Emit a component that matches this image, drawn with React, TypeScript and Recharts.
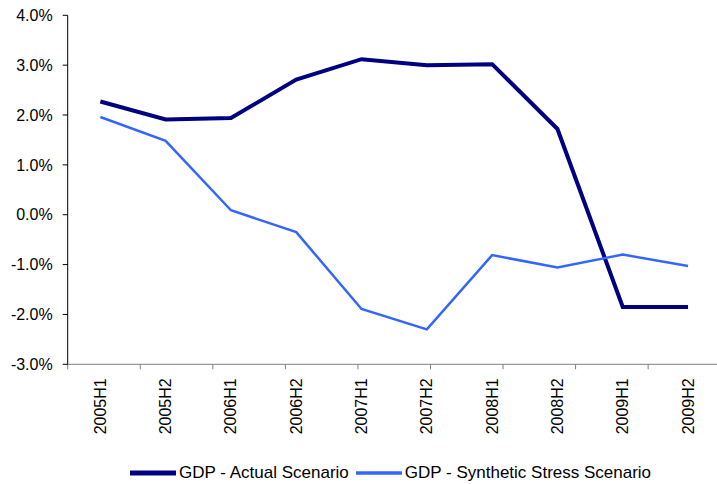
import React from 'react';
import { LineChart, Line, XAxis, YAxis, Legend } from 'recharts';

// Half-year periods on the category axis
const periods = ['2005H1', '2005H2', '2006H1', '2006H2', '2007H1', '2007H2', '2008H1', '2008H2', '2009H1', '2009H2'];

// GDP growth, in percent
const actualScenario = [2.27, 1.91, 1.94, 2.71, 3.12, 3.0, 3.02, 1.72, -1.85, -1.85];
const stressScenario = [1.96, 1.48, 0.09, -0.35, -1.89, -2.3, -0.81, -1.06, -0.8, -1.03];

// Value axis ticks (percent)
const yTicks = [-3, -2, -1, 0, 1, 2, 3, 4];
// Boundaries between categories, used for the tick marks on the bottom axis
const boundaryTicks = [0, 1, 2, 3, 4, 5, 6, 7, 8, 9, 10];

const seriesNames = {
  actual: 'GDP - Actual Scenario',
  stress: 'GDP - Synthetic Stress Scenario',
};

const seriesStyle: Record<string, { color: string; width: number }> = {
  actual: { color: '#000080', width: 4 },
  stress: { color: '#3366ff', width: 2.5 },
};

const data = periods.map((period, i) => ({
  period,
  actual: actualScenario[i],
  stress: stressScenario[i],
}));

const FONT = '"Liberation Sans", Arial, Helvetica, sans-serif';

const PeriodTick = (props: any) => {
  const { x, y, payload } = props;
  return (
    <text
      x={x}
      y={y}
      transform={`rotate(-90, ${x}, ${y})`}
      textAnchor="end"
      dominantBaseline="central"
      fontSize={16}
      fontFamily={FONT}
      fill="#000"
    >
      {payload.value}
    </text>
  );
};

const LegendContent = (props: any) => {
  const { payload } = props;
  return (
    <div
      style={{
        display: 'flex',
        alignItems: 'center',
        height: 20,
        paddingLeft: 130,
        fontFamily: FONT,
        fontSize: 17,
        color: '#000',
        whiteSpace: 'nowrap',
      }}
    >
      {(payload || []).map((entry: any) => {
        const st = seriesStyle[entry.dataKey];
        return (
          <div key={entry.dataKey} style={{ display: 'flex', alignItems: 'center', marginRight: 7 }}>
            <svg width={46} height={8} style={{ marginRight: 3 }}>
              <line x1={0} y1={4} x2={46} y2={4} stroke={st.color} strokeWidth={st.width + 1} />
            </svg>
            <span>{entry.value}</span>
          </div>
        );
      })}
    </div>
  );
};

export default function App() {
  return (
    <div
      style={{
        position: 'absolute',
        left: 0,
        top: 0,
        width: 717,
        height: 484,
        overflow: 'hidden',
        background: '#fff',
      }}
    >
      <LineChart
        width={730}
        height={484}
        data={data}
        margin={{ top: 15.3, right: 9.3, left: 0, bottom: 1.3 }}
      >
        {/* tick marks between categories, right under the plot */}
        <XAxis
          xAxisId={0}
          type="number"
          domain={[0, 10]}
          ticks={boundaryTicks}
          allowDataOverflow
          tickFormatter={() => ''}
          tickSize={5}
          height={6}
          axisLine={{ stroke: '#808080' }}
          tickLine={{ stroke: '#808080' }}
        />
        {/* period labels, centred in each band */}
        <XAxis
          xAxisId={1}
          dataKey="period"
          scale="band"
          interval={0}
          height={92.4}
          axisLine={false}
          tickLine={false}
          tickSize={0}
          tickMargin={8}
          tick={<PeriodTick />}
        />
        <YAxis
          domain={[-3, 4]}
          ticks={yTicks}
          width={67.7}
          tickSize={5}
          tickMargin={10}
          axisLine={{ stroke: '#000' }}
          tickLine={{ stroke: '#000' }}
          tick={{ fontSize: 16, fontFamily: FONT, fill: '#000' }}
          tickFormatter={(v: number) => `${v.toFixed(1)}%`}
        />
        <Legend
          verticalAlign="bottom"
          content={<LegendContent />}
          wrapperStyle={{ left: 0, width: 730 }}
        />
        <Line
          xAxisId={1}
          type="linear"
          dataKey="actual"
          name={seriesNames.actual}
          stroke={seriesStyle.actual.color}
          strokeWidth={seriesStyle.actual.width}
          dot={false}
          isAnimationActive={false}
        />
        <Line
          xAxisId={1}
          type="linear"
          dataKey="stress"
          name={seriesNames.stress}
          stroke={seriesStyle.stress.color}
          strokeWidth={seriesStyle.stress.width}
          dot={false}
          isAnimationActive={false}
        />
      </LineChart>
    </div>
  );
}
